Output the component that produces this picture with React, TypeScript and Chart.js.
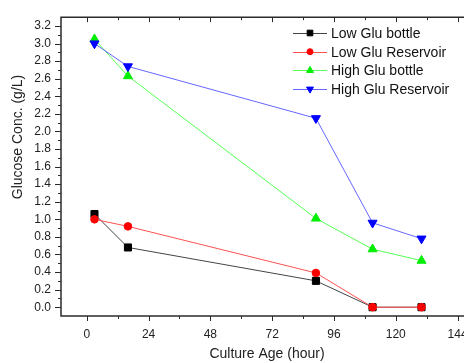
import React, { useEffect, useRef } from 'react';
import { Chart, registerables } from 'chart.js';
import { drawPoint } from 'chart.js/helpers';
Chart.register(...registerables);

const hours = [3, 16, 89, 111, 130];
const lowGluBottle = [1.06, 0.68, 0.30, 0.0, 0.0];
const lowGluReservoir = [1.0, 0.92, 0.39, 0.0, 0.0];
const highGluBottle = [3.05, 2.63, 1.01, 0.66, 0.53];
const highGluReservoir = [3.0, 2.74, 2.15, 0.96, 0.78];
const seriesNames = ['Low Glu bottle', 'Low Glu Reservoir', 'High Glu bottle', 'High Glu Reservoir'];
const xTickValues = [0, 24, 48, 72, 96, 120, 144];
const yTickValues = [0, 0.2, 0.4, 0.6, 0.8, 1.0, 1.2, 1.4, 1.6, 1.8, 2.0, 2.2, 2.4, 2.6, 2.8, 3.0, 3.2];
const xTitle = 'Culture Age (hour)';
const yTitle = 'Glucose Conc. (g/L)';

const FONT = "'Liberation Sans', Arial, sans-serif";
const AXIS = '#2b2b2b';

const series = [
  { data: lowGluBottle, color: '#000000', line: '#444444', style: 'rect', rot: 0, r: 5, lr: 4 },
  { data: lowGluReservoir, color: '#ff0000', line: '#ff5050', style: 'circle', rot: 0, r: 3.8, lr: 3 },
  { data: highGluBottle, color: '#00ee00', line: '#55ff55', style: 'triangle', rot: 0, r: 5.2, lr: 4 },
  { data: highGluReservoir, color: '#0000ff', line: '#6666ff', style: 'triangle', rot: 180, r: 5.2, lr: 4 },
];

const framePlugin = {
  id: 'frame',
  afterDraw(chart: any) {
    const { ctx, chartArea } = chart;
    const xs = chart.scales.x;
    const ys = chart.scales.y;
    const { left, right, top, bottom } = chartArea;
    ctx.save();
    ctx.strokeStyle = AXIS;
    ctx.lineWidth = 1.5;
    ctx.beginPath();
    ctx.moveTo(left, top);
    ctx.lineTo(right, top);
    ctx.lineTo(right, bottom);
    ctx.lineTo(left, bottom);
    ctx.closePath();
    ctx.stroke();
    ctx.lineWidth = 1;
    ctx.beginPath();
    for (let h = 0; h <= 150; h += 12) {
      const px = Math.round(xs.getPixelForValue(h)) + 0.5;
      const len = h % 24 === 0 ? 5 : 3;
      ctx.moveTo(px, bottom);
      ctx.lineTo(px, bottom + len);
      ctx.moveTo(px, top);
      ctx.lineTo(px, top + len);
    }
    for (let i = 0; i <= 32; i++) {
      const v = i / 10;
      const py = Math.round(ys.getPixelForValue(v)) + 0.5;
      const len = i % 2 === 0 ? 6 : 3;
      ctx.moveTo(left, py);
      ctx.lineTo(left - len, py);
      ctx.moveTo(right, py);
      ctx.lineTo(right - len, py);
    }
    ctx.stroke();

    // y-axis title
    ctx.save();
    ctx.translate(18.5, 137);
    ctx.rotate(-Math.PI / 2);
    ctx.font = `14px ${FONT}`;
    ctx.fillStyle = '#222';
    ctx.textAlign = 'center';
    ctx.textBaseline = 'middle';
    ctx.fillText(yTitle, 0, 0);
    ctx.restore();

    // legend
    const lx0 = 293;
    const lx1 = 327;
    const mx = 310;
    const tx = 331;
    const y0 = 33;
    const dy = 18.7;
    ctx.font = `14px ${FONT}`;
    ctx.textBaseline = 'middle';
    ctx.textAlign = 'left';
    series.forEach((s, i) => {
      const y = y0 + i * dy;
      ctx.strokeStyle = s.line;
      ctx.lineWidth = 1;
      ctx.beginPath();
      ctx.moveTo(lx0, Math.round(y) + 0.5);
      ctx.lineTo(lx1, Math.round(y) + 0.5);
      ctx.stroke();
      ctx.fillStyle = s.color;
      ctx.strokeStyle = s.color;
      drawPoint(ctx, { pointStyle: s.style as any, rotation: s.rot, radius: s.lr, borderWidth: 1 }, mx, y);
      ctx.fillStyle = '#111';
      ctx.fillText(seriesNames[i], tx, y + 1);
    });
    ctx.restore();
  },
};

export default function App() {
  const ref = useRef<HTMLCanvasElement>(null);
  useEffect(() => {
    if (!ref.current) return;
    const chart = new Chart(ref.current, {
      type: 'line',
      data: {
        datasets: series.map((s, i) => ({
          label: seriesNames[i],
          data: hours.map((h, j) => ({ x: h, y: s.data[j] })),
          borderColor: s.line,
          backgroundColor: s.color,
          pointBackgroundColor: s.color,
          pointBorderColor: s.color,
          pointBorderWidth: 1,
          borderWidth: 1,
          pointStyle: s.style as any,
          pointRotation: s.rot,
          pointRadius: s.r,
          tension: 0,
          order: 4 - i,
        })),
      },
      options: {
        responsive: false,
        animation: false,
        events: [],
        layout: { padding: { top: 14, right: 7, left: 0, bottom: 0 } },
        plugins: { legend: { display: false }, tooltip: { enabled: false } },
        scales: {
          x: {
            type: 'linear',
            min: -10,
            max: 150,
            grid: { display: false, drawTicks: false, tickLength: 0 },
            border: { display: false },
            afterBuildTicks: (scale: any) => {
              scale.ticks = xTickValues.map((v) => ({ value: v }));
            },
            afterFit: (scale: any) => {
              scale.height = 47;
            },
            ticks: {
              padding: 11,
              color: '#222',
              font: { family: FONT, size: 12 },
              callback: (v: any) => String(v),
              maxRotation: 0,
              autoSkip: false,
            },
            title: {
              display: true,
              text: xTitle,
              color: '#222',
              font: { family: FONT, size: 14 },
              padding: { top: 0, bottom: 0 },
            },
          },
          y: {
            type: 'linear',
            min: -0.1,
            max: 3.3,
            grid: { display: false, drawTicks: false, tickLength: 0 },
            border: { display: false },
            afterBuildTicks: (scale: any) => {
              scale.ticks = yTickValues.map((v) => ({ value: v }));
            },
            afterFit: (scale: any) => {
              scale.width = 61;
            },
            ticks: {
              padding: 10,
              color: '#222',
              font: { family: FONT, size: 12 },
              callback: (v: any) => Number(v).toFixed(1),
              autoSkip: false,
            },
            title: { display: false },
          },
        },
      },
      plugins: [framePlugin],
    });
    return () => chart.destroy();
  }, []);
  return (
    <div style={{ position: 'fixed', left: 0, top: 0, width: 464, height: 363, overflow: 'hidden', background: '#fff' }}>
      <canvas ref={ref} width={480} height={363} style={{ width: 480, height: 363, display: 'block' }} />
    </div>
  );
}
